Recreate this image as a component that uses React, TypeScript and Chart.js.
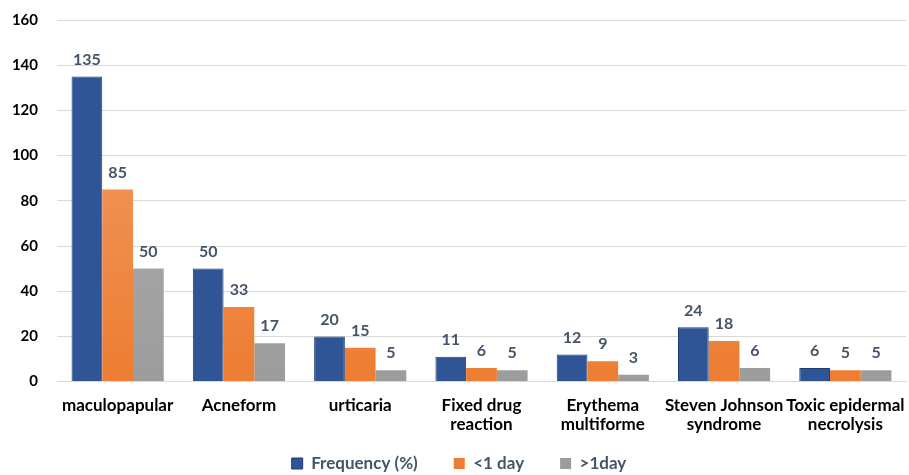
import React, { useEffect, useRef } from "react";
import { Chart, registerables } from "chart.js";

Chart.register(...registerables);

const categories: (string | string[])[] = [
  "maculopapular",
  "Acneform",
  "urticaria",
  ["Fixed drug", "reaction"],
  ["Erythema", "multiforme"],
  ["Steven Johnson", "syndrome"],
  ["Toxic epidermal", "necrolysis"],
];
const frequency = [135, 50, 20, 11, 12, 24, 6];
const lessThanOneDay = [85, 33, 15, 6, 9, 18, 5];
const moreThanOneDay = [50, 17, 5, 5, 3, 6, 5];
const seriesNames = ["Frequency (%)", "<1 day", ">1day"];

const FONT = "Lato, 'Open Sans', sans-serif";
const LABEL_COLOR = "#44546A";

const dataLabels = {
  id: "dataLabels",
  afterDatasetsDraw(chart: any) {
    const ctx = chart.ctx;
    ctx.save();
    ctx.font = `bold 16px ${FONT}`;
    ctx.fillStyle = LABEL_COLOR;
    ctx.textAlign = "center";
    ctx.textBaseline = "bottom";
    chart.data.datasets.forEach((ds: any, i: number) => {
      const meta = chart.getDatasetMeta(i);
      meta.data.forEach((el: any, j: number) => {
        ctx.fillText(String(ds.data[j]), el.x, el.y - 9);
      });
    });
    ctx.restore();
  },
};

const legendFit = {
  id: "legendFit",
  beforeInit(chart: any) {
    const legend = chart.legend;
    if (!legend) return;
    const orig = legend.fit;
    legend.fit = function () {
      orig.call(this);
      this.height -= 29;
    };
  },
  afterLayout(chart: any) {
    const legend = chart.legend;
    if (!legend) return;
    legend.top -= 22;
    legend.bottom = chart.height;
  },
};

function gradient(top: string, bottom: string) {
  return (context: any) => {
    const { chart } = context;
    const area = chart.chartArea;
    if (!area) return bottom;
    const g = chart.ctx.createLinearGradient(0, area.top, 0, area.bottom);
    g.addColorStop(0, top);
    g.addColorStop(1, bottom);
    return g;
  };
}

export default function App() {
  const ref = useRef<HTMLCanvasElement>(null);
  useEffect(() => {
    document.body.style.margin = "0";
    const chart = new Chart(ref.current!, {
      type: "bar",
      data: {
        labels: categories,
        datasets: [
          {
            label: seriesNames[0],
            data: frequency,
            backgroundColor: "#2F5597",
            borderColor: "#1F3D73",
            borderWidth: 1,
          },
          {
            label: seriesNames[1],
            data: lessThanOneDay,
            backgroundColor: gradient("#F3A06E", "#ED7D31"),
            borderWidth: 0,
          },
          {
            label: seriesNames[2],
            data: moreThanOneDay,
            backgroundColor: gradient("#B4B4B4", "#9C9C9C"),
            borderWidth: 0,
          },
        ],
      },
      plugins: [legendFit, dataLabels],
      options: {
        animation: false,
        responsive: false,
        maintainAspectRatio: false,
        layout: { padding: { left: 12, right: 3, top: 0, bottom: 0 } },
        datasets: {
          bar: { categoryPercentage: 0.76, barPercentage: 1 },
        },
        scales: {
          x: {
            grid: { display: false },
            border: { display: true, color: "#D9D9D9" },
            afterFit: (scale: any) => {
              scale.paddingLeft = 0;
              scale.paddingRight = 0;
            },
            ticks: {
              color: "#000",
              font: { family: FONT, size: 17, weight: "bold", lineHeight: 1.1 },
              maxRotation: 0,
              autoSkip: false,
              padding: 7,
            },
          },
          y: {
            min: 0,
            max: 160,
            afterFit: (scale: any) => {
              scale.paddingTop = 20;
              scale.paddingBottom = 0;
              scale.width = 45;
            },
            ticks: {
              stepSize: 20,
              color: "#000",
              font: { family: FONT, size: 15, weight: "bold" },
              padding: 19,
            },
            grid: { color: "#D9D9D9", drawTicks: false },
            border: { display: false },
          },
        },
        plugins: {
          legend: {
            position: "bottom",
            labels: {
              boxWidth: 11,
              boxHeight: 11,
              padding: 36,
              color: LABEL_COLOR,
              font: { family: FONT, size: 17, weight: "bold" },
            },
          },
          tooltip: { enabled: false },
        },
      },
    } as any);
    return () => chart.destroy();
  }, []);
  return (
    <div style={{ width: 909, height: 475 }}>
      <canvas ref={ref} width={909} height={475} />
    </div>
  );
}
